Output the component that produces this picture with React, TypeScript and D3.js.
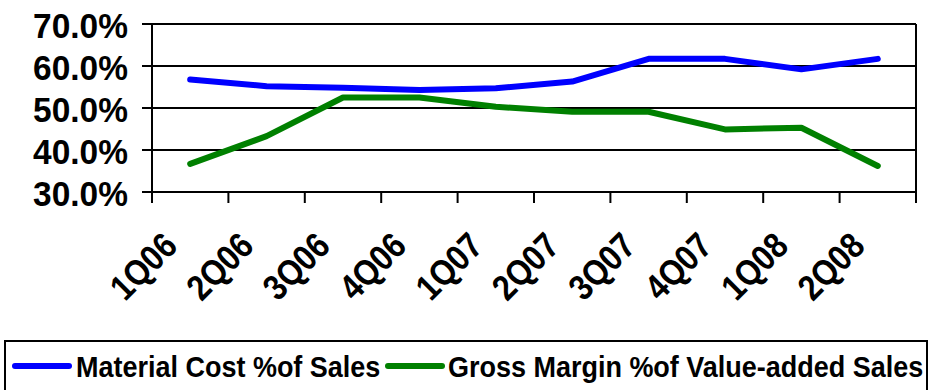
import React from "react";
import * as d3 from "d3";

const categories = ["1Q06", "2Q06", "3Q06", "4Q06", "1Q07", "2Q07", "3Q07", "4Q07", "1Q08", "2Q08"];
const materialCost = [56.8, 55.2, 54.8, 54.3, 54.7, 56.3, 61.7, 61.7, 59.2, 61.7];
const grossMargin = [36.7, 43.3, 52.5, 52.5, 50.3, 49.1, 49.1, 44.9, 45.3, 36.2];
const yTicks = [30, 40, 50, 60, 70];
const seriesNames = ["Material Cost %of Sales", "Gross Margin %of Value-added Sales"];
const seriesColors = ["#0000FF", "#008000"];

const W = 929;
const H = 390;
const FONT = "'Liberation Sans', Arial, sans-serif";

export default function App() {
  const x = d3.scaleBand<string>().domain(categories).range([152, 916]).padding(0);
  const y = d3.scaleLinear().domain([30, 70]).range([192, 24]);
  const cx = (c: string) => (x(c) ?? 0) + x.bandwidth() / 2;

  const line = d3
    .line<number>()
    .x((_, i) => cx(categories[i]))
    .y((d) => y(d));

  const boundaries = [...categories.map((c) => x(c) ?? 0), x.range()[1]];
  const [x0, x1] = x.range();
  const [yb, yt] = y.range();

  return (
    <svg
      width={W}
      height={H}
      style={{ position: "absolute", left: 0, top: 0, background: "#fff" }}
      fontFamily={FONT}
      fontWeight="bold"
    >
      {/* gridlines */}
      {yTicks.map((t) => (
        <line key={"g" + t} x1={x0} x2={x1} y1={y(t)} y2={y(t)} stroke="#000" strokeWidth={2} />
      ))}
      {/* y ticks */}
      {yTicks.map((t) => (
        <line key={"yt" + t} x1={x0 - 10} x2={x0} y1={y(t)} y2={y(t)} stroke="#000" strokeWidth={2} />
      ))}
      {/* plot borders */}
      <line x1={x0} x2={x0} y1={yt} y2={yb} stroke="#000" strokeWidth={2} />
      <line x1={x1} x2={x1} y1={yt} y2={yb} stroke="#000" strokeWidth={2} />
      {/* x ticks */}
      {boundaries.map((b, i) => (
        <line key={"xt" + i} x1={b} x2={b} y1={yb} y2={yb + 11} stroke="#000" strokeWidth={2} />
      ))}
      {/* y labels */}
      {yTicks.map((t) => (
        <text
          key={"yl" + t}
          transform={`translate(128 ${y(t) + 14}) scale(0.93 1)`}
          textAnchor="end"
          fontSize={36}
          fill="#000"
        >
          {t.toFixed(1) + "%"}
        </text>
      ))}
      {/* x labels */}
      {categories.map((c) => {
        const ex = cx(c) - 11;
        const ey = 248;
        return (
          <text
            key={"xl" + c}
            transform={`translate(${ex} ${ey}) rotate(-45) scale(0.87 1)`}
            textAnchor="end"
            fontSize={36}
            fill="#000"
          >
            {c}
          </text>
        );
      })}
      {/* series lines */}
      {[materialCost, grossMargin].map((s, i) => (
        <path
          key={"s" + i}
          d={line(s) ?? ""}
          fill="none"
          stroke={seriesColors[i]}
          strokeWidth={6}
          strokeLinecap="round"
          strokeLinejoin="round"
        />
      ))}
      {/* legend */}
      <rect x={5} y={341} width={922} height={60} fill="#fff" stroke="#000" strokeWidth={2} />
      <line x1={15} x2={69} y1={366} y2={366} stroke={seriesColors[0]} strokeWidth={6} strokeLinecap="round" />
      <text transform="translate(76 377) scale(0.9 1)" fontSize={30} fill="#000">
        {seriesNames[0]}
      </text>
      <line x1={388} x2={442} y1={366} y2={366} stroke={seriesColors[1]} strokeWidth={6} strokeLinecap="round" />
      <text transform="translate(448 377) scale(0.9 1)" fontSize={30} fill="#000">
        {seriesNames[1]}
      </text>
    </svg>
  );
}
